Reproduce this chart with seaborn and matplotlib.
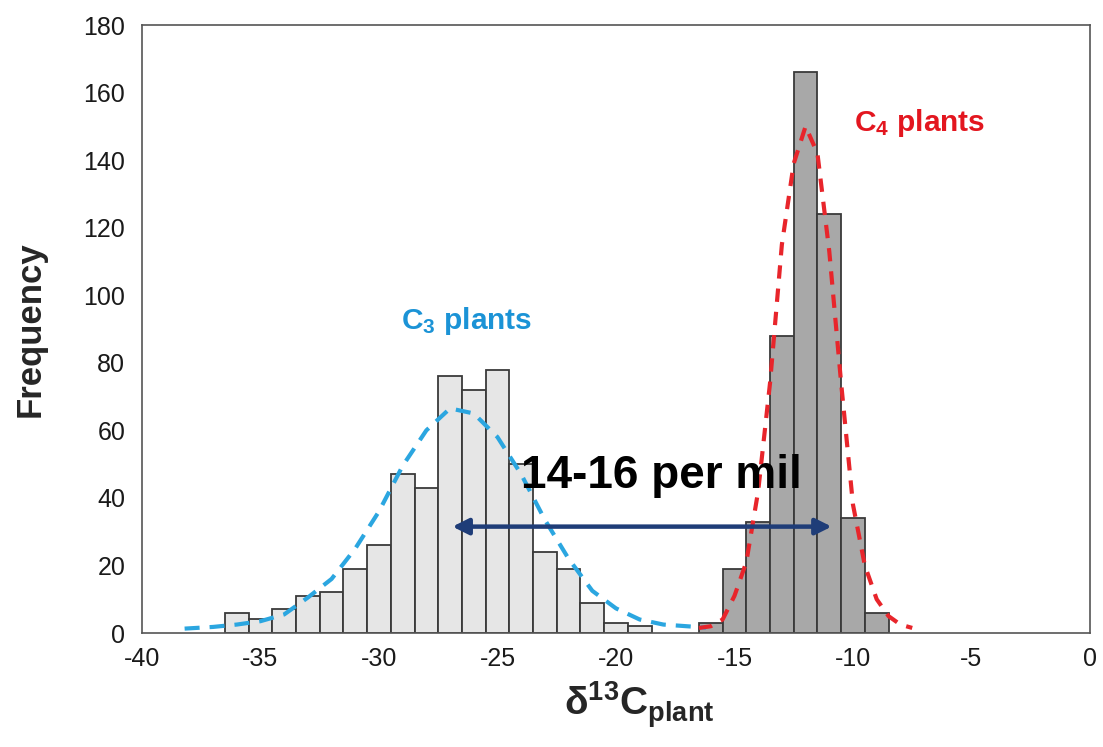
import numpy as np
import pandas as pd
import matplotlib
matplotlib.use("Agg")
import matplotlib.pyplot as plt
import seaborn as sns

# ---------------- data ----------------
c3_bin_edges = [-36.5 + i for i in range(19)]          # 18 bins, width 1
c3_counts = [6, 4, 7, 11, 12, 19, 26, 47, 43, 76, 72, 78, 50, 24, 19, 9, 3, 2]

c4_bin_edges = [-16.5 + i for i in range(9)]           # 8 bins, width 1
c4_counts = [3, 19, 33, 88, 166, 124, 34, 6]

c3_curve_x = [-38.2, -37, -36, -35, -34, -33, -32, -31, -30, -29, -28, -27,
              -26, -25, -24, -23, -22, -21, -20, -19, -18, -17, -16.2]
c3_curve_y = [1.3, 1.8, 2.5, 3.5, 5.5, 10.5, 16, 25, 36, 49.5, 60, 66.5,
              65, 58, 47, 33.5, 22, 12.5, 7.3, 4, 2.5, 2, 1.6]

c4_curve_x = [-16.5, -16, -15.5, -15, -14.5, -14, -13.5, -13, -12.5, -12,
              -11.5, -11, -10.5, -10, -9.5, -9, -8.5, -8, -7.5]
c4_curve_y = [1.5, 2, 4, 11, 21, 42, 74, 115, 139, 150,
              142, 113, 74, 38, 20, 10, 5, 2.5, 1.5]

arrow_x = [-26.9, -10.9]
arrow_y = 31.5

x_ticks = [-40, -35, -30, -25, -20, -15, -10, -5, 0]
y_ticks = [0, 20, 40, 60, 80, 100, 120, 140, 160, 180]

# ---------------- style ----------------
sns.set_theme(style="white")
plt.rcParams["font.family"] = ["Liberation Sans", "DejaVu Sans"]
plt.rcParams["axes.unicode_minus"] = False
plt.rcParams["mathtext.fontset"] = "custom"
plt.rcParams["mathtext.rm"] = "Liberation Sans"
plt.rcParams["mathtext.bf"] = "Liberation Sans:bold"
plt.rcParams["mathtext.it"] = "Liberation Sans:italic"

fig = plt.figure(figsize=(11.03, 7.47), dpi=100)
ax = fig.add_axes([0.1287, 0.1526, 0.8595, 0.8139])

c3_centers = [(a + b) / 2 for a, b in zip(c3_bin_edges[:-1], c3_bin_edges[1:])]
c4_centers = [(a + b) / 2 for a, b in zip(c4_bin_edges[:-1], c4_bin_edges[1:])]

sns.histplot(x=c3_centers, weights=c3_counts, bins=c3_bin_edges, ax=ax,
             color="#e6e6e6", edgecolor="#3a3a3a", linewidth=1.3, alpha=1)
sns.histplot(x=c4_centers, weights=c4_counts, bins=c4_bin_edges, ax=ax,
             color="#a8a8a8", edgecolor="#3a3a3a", linewidth=1.3, alpha=1)

sns.lineplot(x=c3_curve_x, y=c3_curve_y, ax=ax, color="#2ba6e0", lw=3)
ax.lines[-1].set_dashes((3.6, 2.4))
sns.lineplot(x=c4_curve_x, y=c4_curve_y, ax=ax, color="#e8252b", lw=3)
ax.lines[-1].set_dashes((3.2, 2.4))

ax.annotate("", xy=(arrow_x[0], arrow_y), xytext=(arrow_x[1], arrow_y),
            arrowprops=dict(arrowstyle="<|-|>", color="#1f3d78", lw=3.2,
                            mutation_scale=24, shrinkA=0, shrinkB=0))

ax.text(-18.1, 46.5, "14-16 per mil", fontsize=33, fontweight="bold",
        color="black", ha="center", va="center")
ax.text(-26.3, 92.5, r"C$_\mathbf{3}$ plants", fontsize=21.5, fontweight="bold",
        color="#1b93d6", ha="center", va="center")
ax.text(-7.2, 151, r"C$_\mathbf{4}$ plants", fontsize=21.5, fontweight="bold",
        color="#e3161f", ha="center", va="center")

ax.set_xlim(-40, 0)
ax.set_ylim(0, 180)
ax.set_xticks(x_ticks)
ax.set_yticks(y_ticks)
ax.set_xticklabels([str(t) for t in x_ticks])
ax.set_yticklabels([str(t) for t in y_ticks])
ax.tick_params(axis="both", direction="in", length=6, width=1,
               color="#555555", labelsize=18, labelcolor="#1a1a1a")
ax.tick_params(axis="x", pad=10)
ax.tick_params(axis="y", pad=12)

for s in ax.spines.values():
    s.set_color("#555555")
    s.set_linewidth(1.2)
    s.set_visible(True)

ax.set_ylabel("Frequency", fontsize=25, fontweight="bold")
ax.yaxis.set_label_coords(-0.101, 0.5)
ax.set_xlabel(r"δ$^{\mathbf{13}}$C$_{\mathbf{plant}}$", fontsize=28,
              fontweight="bold")
ax.xaxis.set_label_coords(0.525, -0.076)

fig.savefig("out.png", dpi=100)
